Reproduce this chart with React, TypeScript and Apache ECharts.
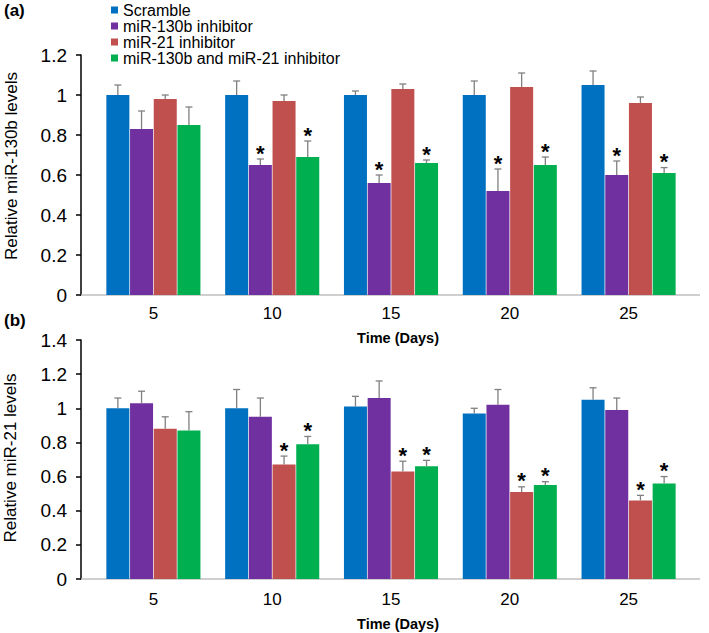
import React, { useEffect, useRef } from "react";
import * as echarts from "echarts";

const days = ["5", "10", "15", "20", "25"];
const seriesNames = [
  "Scramble",
  "miR-130b inhibitor",
  "miR-21 inhibitor",
  "miR-130b and miR-21 inhibitor",
];
const colors = ["#0070C0", "#7030A0", "#C0504D", "#00B050"];

// Panel (a): relative miR-130b levels
const aScramble = [1.0, 1.0, 1.0, 1.0, 1.05];
const aScrambleErr = [0.05, 0.07, 0.02, 0.07, 0.07];
const aInh130b = [0.83, 0.65, 0.56, 0.52, 0.6];
const aInh130bErr = [0.09, 0.03, 0.04, 0.11, 0.07];
const aInh21 = [0.98, 0.97, 1.03, 1.04, 0.96];
const aInh21Err = [0.02, 0.03, 0.025, 0.07, 0.03];
const aBoth = [0.85, 0.69, 0.66, 0.65, 0.61];
const aBothErr = [0.09, 0.08, 0.015, 0.04, 0.027];
const aSig = [
  [0, 0, 0, 0, 0],
  [0, 1, 1, 1, 1],
  [0, 0, 0, 0, 0],
  [0, 1, 1, 1, 1],
];

// Panel (b): relative miR-21 levels
const bScramble = [1.0, 1.0, 1.01, 0.97, 1.05];
const bScrambleErr = [0.06, 0.11, 0.06, 0.03, 0.07];
const bInh130b = [1.03, 0.95, 1.06, 1.02, 0.99];
const bInh130bErr = [0.07, 0.11, 0.1, 0.09, 0.07];
const bInh21 = [0.88, 0.67, 0.63, 0.51, 0.46];
const bInh21Err = [0.07, 0.05, 0.06, 0.03, 0.03];
const bBoth = [0.87, 0.79, 0.66, 0.55, 0.56];
const bBothErr = [0.11, 0.045, 0.035, 0.02, 0.04];
const bSig = [
  [0, 0, 0, 0, 0],
  [0, 0, 0, 0, 0],
  [0, 1, 1, 1, 1],
  [0, 1, 1, 1, 1],
];

const aTicks = { min: 0, max: 1.2, interval: 0.2 };
const bTicks = { min: 0, max: 1.4, interval: 0.2 };
const yTitles = ["Relative miR-130b levels", "Relative miR-21 levels"];

const FONT = "'Liberation Sans', Arial, sans-serif";
const CAT_GAP = 0.208;
const BAR_GAP = 0.03;

function makeErrRender(si: number) {
  return (params: any, api: any) => {
    const cat = api.value(0);
    const val = api.value(1);
    const err = api.value(2);
    const star = api.value(3);
    const band = api.size([1, 0])[0];
    const groupW = band * (1 - CAT_GAP);
    const w = groupW / (4 + 3 * BAR_GAP);
    const step = w * (1 + BAR_GAP);
    const off = (si - 1.5) * step;
    const base = api.coord([cat, val]);
    const top = api.coord([cat, val + err]);
    const x = base[0] + off;
    const children: any[] = [
      {
        type: "line",
        shape: { x1: x, y1: base[1], x2: x, y2: top[1] },
        style: { stroke: "#808080", lineWidth: 1.3 },
      },
      {
        type: "line",
        shape: { x1: x - 3.5, y1: top[1], x2: x + 3.5, y2: top[1] },
        style: { stroke: "#808080", lineWidth: 1.3 },
      },
    ];
    if (star) {
      children.push({
        type: "text",
        x: x,
        y: top[1] + 5,
        style: {
          text: "*",
          fill: "#000",
          font: `bold 22px ${FONT}`,
          align: "center",
          verticalAlign: "bottom",
        },
      });
    }
    return { type: "group", children };
  };
}

export default function App() {
  const ref = useRef<HTMLDivElement>(null);

  useEffect(() => {
    if (!ref.current) return;
    const chart = echarts.init(ref.current, undefined, { renderer: "svg" });

    const panels = [
      {
        vals: [aScramble, aInh130b, aInh21, aBoth],
        errs: [aScrambleErr, aInh130bErr, aInh21Err, aBothErr],
        sig: aSig,
      },
      {
        vals: [bScramble, bInh130b, bInh21, bBoth],
        errs: [bScrambleErr, bInh130bErr, bInh21Err, bBothErr],
        sig: bSig,
      },
    ];

    const series: any[] = [];
    panels.forEach((p, pi) => {
      p.vals.forEach((v, si) => {
        series.push({
          type: "bar",
          name: seriesNames[si],
          xAxisIndex: pi,
          yAxisIndex: pi,
          data: v,
          itemStyle: { color: colors[si] },
          barCategoryGap: (CAT_GAP * 100).toFixed(1) + "%",
          barGap: BAR_GAP * 100 + "%",
          z: 2,
        });
      });
      p.vals.forEach((v, si) => {
        series.push({
          type: "custom",
          xAxisIndex: pi,
          yAxisIndex: pi,
          renderItem: makeErrRender(si),
          data: v.map((val, i) => [i, val, p.errs[si][i], p.sig[si][i]]),
          encode: { x: 0, y: 1 },
          z: 5,
          silent: true,
        });
      });
    });

    const yAxisCommon = {
      type: "value",
      offset: 13,
      axisLine: { show: true, lineStyle: { color: "#000", width: 1.5 } },
      axisTick: { show: true, length: 5, lineStyle: { color: "#000", width: 1.5 } },
      splitLine: { show: false },
      axisLabel: { color: "#000", fontSize: 19, fontFamily: FONT, margin: 14 },
    };
    const xAxisCommon = {
      type: "category",
      data: days,
      axisLine: { show: false },
      axisTick: { show: false },
      axisLabel: { color: "#000", fontSize: 17, fontFamily: FONT },
      name: "Time (Days)",
      nameLocation: "middle",
      nameTextStyle: {
        color: "#000",
        fontSize: 14.5,
        fontWeight: "bold",
        fontFamily: FONT,
        padding: [0, 0, 0, 14],
      },
    };

    chart.setOption({
      animation: false,
      backgroundColor: "#fff",
      textStyle: { fontFamily: FONT },
      legend: {
        data: seriesNames,
        orient: "vertical",
        left: 111,
        top: 2,
        padding: 0,
        itemGap: 0,
        itemWidth: 7,
        itemHeight: 7,
        icon: "rect",
        selectedMode: false,
        textStyle: { color: "#000", fontSize: 16, lineHeight: 16, fontFamily: FONT },
      },
      grid: [
        { left: 94, right: 21, top: 55, bottom: 633 - 295 },
        { left: 94, right: 21, top: 340, bottom: 633 - 579 },
      ],
      xAxis: [
        { ...xAxisCommon, gridIndex: 0, nameGap: 35, axisLabel: { ...xAxisCommon.axisLabel, margin: 10 } },
        { ...xAxisCommon, gridIndex: 1, nameGap: 37, axisLabel: { ...xAxisCommon.axisLabel, margin: 12 } },
      ],
      yAxis: [
        { ...yAxisCommon, gridIndex: 0, ...aTicks },
        { ...yAxisCommon, gridIndex: 1, ...bTicks },
      ],
      graphic: [
        {
          type: "line",
          shape: { x1: 81, y1: 295, x2: 700, y2: 295 },
          style: { stroke: "#BFBFBF", lineWidth: 1.3 },
          z: 1,
        },
        {
          type: "line",
          shape: { x1: 81, y1: 579, x2: 700, y2: 579 },
          style: { stroke: "#BFBFBF", lineWidth: 1.3 },
          z: 1,
        },
        {
          type: "text",
          x: 11,
          y: 166,
          rotation: Math.PI / 2,
          style: {
            text: yTitles[0],
            fill: "#000",
            font: `17px ${FONT}`,
            align: "center",
            verticalAlign: "middle",
          },
        },
        {
          type: "text",
          x: 10,
          y: 458,
          rotation: Math.PI / 2,
          style: {
            text: yTitles[1],
            fill: "#000",
            font: `17px ${FONT}`,
            align: "center",
            verticalAlign: "middle",
          },
        },
        {
          type: "text",
          left: 4,
          top: 2,
          style: { text: "(a)", fill: "#000", font: `bold 17px ${FONT}` },
        },
        {
          type: "text",
          left: 4,
          top: 312,
          style: { text: "(b)", fill: "#000", font: `bold 17px ${FONT}` },
        },
      ],
      series,
    });

    return () => chart.dispose();
  }, []);

  return (
    <div
      ref={ref}
      style={{ position: "fixed", left: 0, top: 0, width: 709, height: 633, background: "#fff" }}
    />
  );
}
